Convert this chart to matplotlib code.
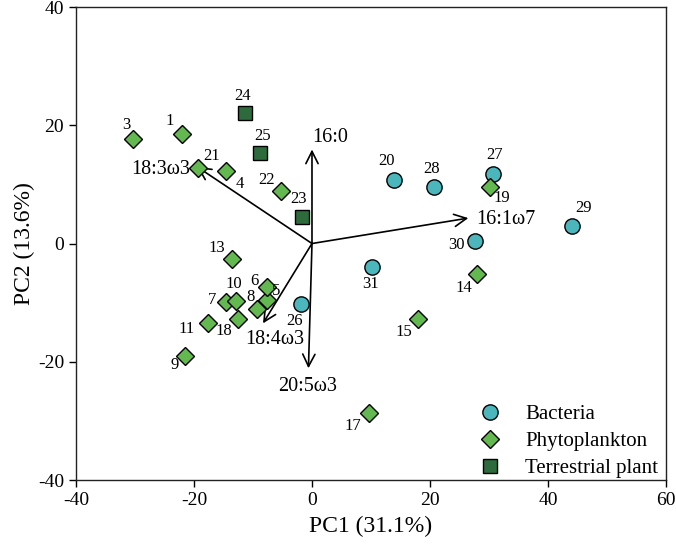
import matplotlib
matplotlib.use("Agg")
import matplotlib.pyplot as plt

plt.rcParams['font.family'] = ['Liberation Serif', 'DejaVu Serif']
plt.rcParams['mathtext.fontset'] = 'stix'
plt.rcParams['axes.unicode_minus'] = False

# Sample scores (PC1, PC2)
bact_ids = ["20", "26", "27", "28", "29", "30", "31"]
bact_x = [13.9, -1.9, 30.6, 20.6, 44.0, 27.6, 10.1]
bact_y = [10.7, -10.2, 11.7, 9.5, 3.0, 0.4, -3.9]

phyto_ids = ["1", "3", "4", "5", "6", "7", "8", "9", "10", "11", "13", "14",
             "15", "17", "18", "19", "21", "22"]
phyto_x = [-22.1, -30.3, -14.5, -7.6, -7.7, -14.6, -9.3, -21.5, -12.8, -17.7,
           -13.6, 27.9, 18.0, 9.7, -12.5, 30.2, -19.3, -5.3]
phyto_y = [18.6, 17.6, 12.3, -9.6, -7.3, -9.9, -11.1, -19.0, -9.8, -13.4,
           -2.7, -5.2, -12.7, -28.7, -12.8, 9.6, 12.7, 8.8]

terr_ids = ["23", "24", "25"]
terr_x = [-1.7, -11.4, -8.8]
terr_y = [4.5, 22.1, 15.3]

# Loading vectors
fa_names = ["16:0", "18:3ω3", "16:1ω7", "18:4ω3", "20:5ω3"]
fa_x = [0.0, -19.5, 26.5, -8.3, -0.6]
fa_y = [15.9, 13.0, 4.3, -13.5, -21.1]

# label offsets (pixels)
label_off = {
    "1": (-12, 13), "3": (-7, 14), "24": (-2, 17), "25": (2, 17), "21": (13, 12),
    "4": (13, -13), "22": (-14, 11), "23": (-3, 18), "13": (-15, 11), "6": (-12, 6),
    "5": (9, 9), "10": (-3, 17), "7": (-14, 2), "8": (-7, 12), "11": (-21, -6),
    "18": (-14, -12), "9": (-11, -9), "26": (-6, -17), "20": (-7, 19), "28": (-2, 18),
    "27": (2, 19), "19": (12, -11), "29": (12, 18), "30": (-18, -4), "31": (-1, -17),
    "14": (-13, -14), "15": (-14, -13), "17": (-16, -13),
}
fa_off = {
    "16:0": (18, 12), "18:3ω3": (-36, -3), "16:1ω7": (38, -1),
    "18:4ω3": (12, -16), "20:5ω3": (-1, -18),
}

fig = plt.figure(figsize=(6.76, 5.57), dpi=100)
ax = fig.add_axes([0.1124, 0.1382, 0.8728, 0.8492])

# arrows
for name, vx, vy in zip(fa_names, fa_x, fa_y):
    ax.annotate("", xy=(vx, vy), xytext=(0, 0),
                arrowprops=dict(arrowstyle="->", color="black", lw=1.2,
                                mutation_scale=22, shrinkA=0, shrinkB=0))
    ax.annotate(name, xy=(vx, vy), xytext=fa_off[name], textcoords="offset pixels",
                ha="center", va="center", fontsize=14.5)

ax.plot(bact_x, bact_y, 'o', ms=11, mfc="#4BB7BC", mec="black", mew=1.0,
        ls="none", label="Bacteria", zorder=3)
ax.plot(phyto_x, phyto_y, 'D', ms=9.5, mfc="#63B84F", mec="black", mew=1.0,
        ls="none", label="Phytoplankton", zorder=3)
ax.plot(terr_x, terr_y, 's', ms=9.5, mfc="#2E6B3C", mec="black", mew=1.0,
        ls="none", label="Terrestrial plant", zorder=3)

for ids, xs, ys in [(bact_ids, bact_x, bact_y), (phyto_ids, phyto_x, phyto_y),
                    (terr_ids, terr_x, terr_y)]:
    for i, x, y in zip(ids, xs, ys):
        ax.annotate(i, xy=(x, y), xytext=label_off[i], textcoords="offset pixels",
                    ha="center", va="center", fontsize=12)

ax.set_xlim(-40, 60)
ax.set_ylim(-40, 40)
ax.set_xticks([-40, -20, 0, 20, 40, 60])
ax.set_yticks([-40, -20, 0, 20, 40])
ax.tick_params(direction="out", length=5, width=1, labelsize=14, top=False, right=False)
for s in ax.spines.values():
    s.set_linewidth(1.0)
    s.set_color("#222222")
ax.set_xlabel("PC1 (31.1%)", fontsize=17, labelpad=5)
ax.set_ylabel("PC2 (13.6%)", fontsize=17, labelpad=2)

ax.legend(loc="lower right", bbox_to_anchor=(1.012, -0.027), frameon=False, fontsize=15,
          handletextpad=0.9, labelspacing=0.36, borderaxespad=0.3, handlelength=1.6)

fig.savefig("out.png", dpi=100)
